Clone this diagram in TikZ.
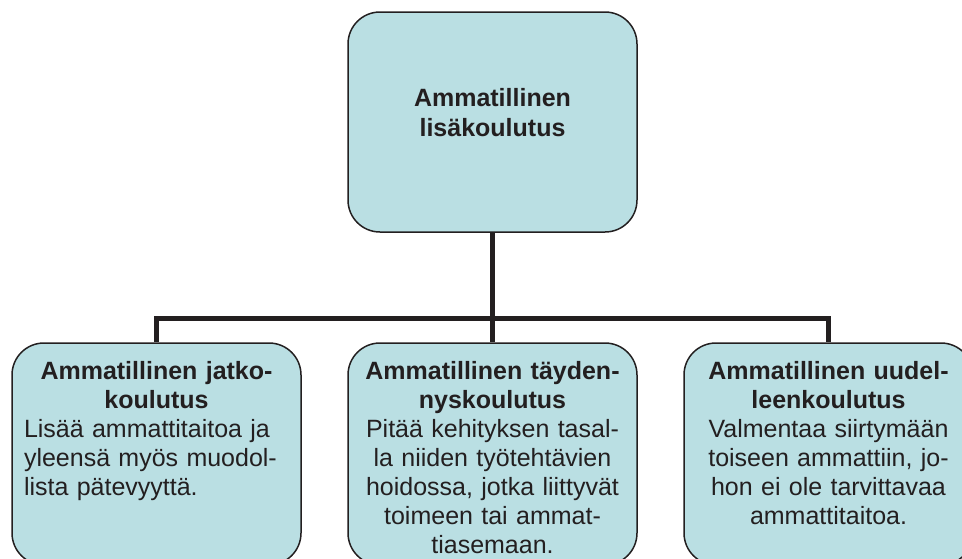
\documentclass[tikz,border=0pt]{standalone}
\usepackage{fontspec}
\setmainfont{Liberation Sans}
\usepackage{xcolor}
\usepackage{tikz}
\usetikzlibrary{trees}

\definecolor{boxfill}{RGB}{186,223,227}
\definecolor{ink}{RGB}{35,31,32}

\begin{document}
\begin{tikzpicture}[x=1pt, y=1pt, level distance=332, sibling distance=336,
    edge from parent path={(\tikzparentnode.south) -- ++(0,-86) -| (\tikzchildnode.north)}]
          \useasboundingbox (0,0) rectangle (962,-558);
          \clip (0,0) rectangle (962,-558);
          \tikzstyle{every node}=[draw=ink,fill=boxfill,text=ink,line width=1.5pt,rounded corners=32pt,
            font=\fontsize{25pt}{29pt}\selectfont,text width=265pt,inner xsep=12pt,
            inner ysep=17pt,text height=19pt,text depth=169pt,align=center]
          \tikzstyle{edge from parent}=[draw=ink,line width=5pt]
          \node[inner ysep=0pt,text height=94pt,text depth=126pt,
            font=\fontsize{25pt}{30pt}\selectfont\bfseries] (lisa) at (492.5,-122)
            {Ammatillinen\\lisäkoulutus}
          child {
            node[align=left] (jatko) {{\centering\bfseries Ammatillinen jatko-\\koulutus\endgraf}
              Lisää ammattitaitoa ja\\yleensä myös muodol-\\lista pätevyyttä.}
          }
          child {
            node (taydennys) {\textbf{Ammatillinen täyden-}\\\textbf{nyskoulutus}\\
              Pitää kehityksen tasal-\\la niiden työtehtävien\\hoidossa, jotka liittyvät\\
              toimeen tai ammat-\\tiasemaan.}
          }
          child {
            node (uudelleen) {\textbf{Ammatillinen uudel-}\\\textbf{leenkoulutus}\\
              Valmentaa siirtymään\\toiseen ammattiin, jo-\\hon ei ole tarvittavaa\\
              ammattitaitoa.}
          } ;
          % \draw (lisa) -- (taydennys) ;
        \end{tikzpicture}
\end{document}
